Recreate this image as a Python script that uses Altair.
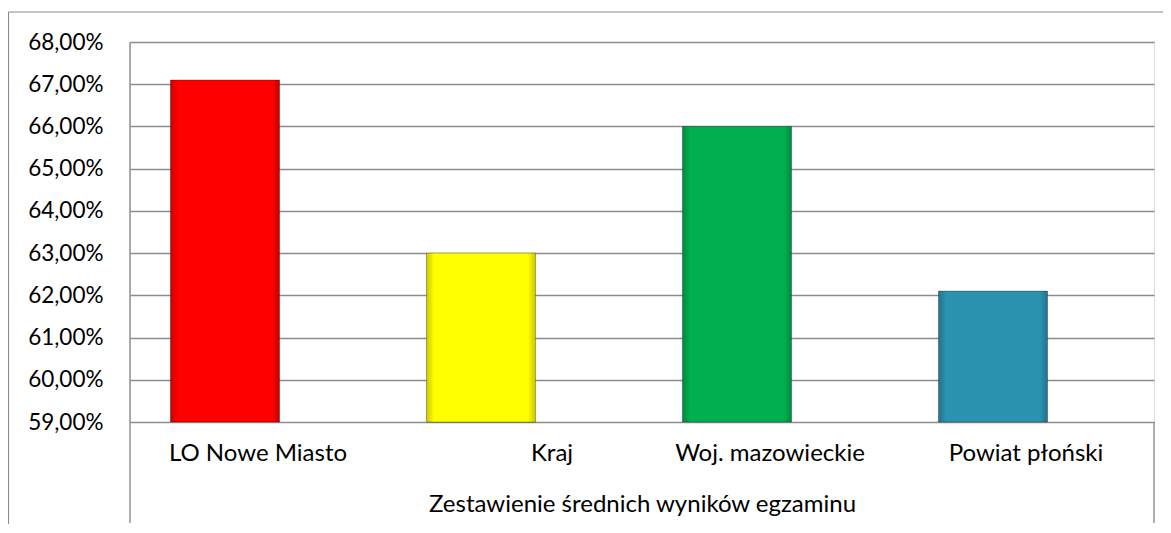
import altair as alt
import pandas as pd

categories = ["LO Nowe Miasto", "Kraj", "Woj. mazowieckie", "Powiat płoński"]
values = [67.1, 63.0, 66.0, 62.1]
bar_colors = ["#FF0000", "#FFFF00", "#00B050", "#2B93AF"]
y_ticks = [59, 60, 61, 62, 63, 64, 65, 66, 67, 68]
x_title = "Zestawienie średnich wyników egzaminu"

df = pd.DataFrame({"cat": categories, "val": values})

FONT = "Lato"
W, H = 1024, 380
GRID = "#8c8c8c"

offset_cond = {
    "condition": [{"test": "datum.value === 'Kraj'", "value": 38}],
    "value": 0,
}

x_enc = alt.X(
    "cat:N",
    sort=categories,
    scale=alt.Scale(paddingInner=0.574, paddingOuter=0.287),
    axis=alt.Axis(
        title=x_title,
        labelAngle=0,
        domain=False,
        ticks=False,
        grid=False,
        labelFont=FONT,
        labelFontSize=24,
        labelColor="black",
        labelPadding=19,
        labelLimit=400,
        labelOverlap=False,
        labelOffset=offset_cond,
        titleFont=FONT,
        titleFontSize=24,
        titleFontWeight="normal",
        titleColor="black",
        titlePadding=27,
        titleLimit=1000,
    ),
)
y_enc = alt.Y(
    "val:Q",
    scale=alt.Scale(domain=[59, 68], nice=False, zero=False),
    axis=alt.Axis(
        title=None,
        values=y_ticks,
        labelExpr="replace(format(datum.value, '.2f'), '.', ',') + '%'",
        domain=False,
        ticks=False,
        grid=True,
        gridColor=GRID,
        gridWidth=1.4,
        labelFont=FONT,
        labelFontSize=22.5,
        labelColor="black",
        labelPadding=27,
        labelOverlap=False,
    ),
)

bars = alt.Chart(df).mark_bar(
    xOffset=-33, stroke="rgba(0,0,0,0.28)", strokeWidth=1
).encode(
    x=x_enc,
    y=y_enc,
    y2=alt.datum(59),
    color=alt.Color("cat:N", scale=alt.Scale(domain=categories, range=bar_colors), legend=None),
)

shade = alt.Chart(df).mark_bar(
    xOffset=-33,
    color=alt.Gradient(
        gradient="linear",
        stops=[
            alt.GradientStop(color="rgba(0,0,0,0.22)", offset=0),
            alt.GradientStop(color="rgba(0,0,0,0)", offset=0.07),
            alt.GradientStop(color="rgba(0,0,0,0)", offset=0.93),
            alt.GradientStop(color="rgba(0,0,0,0.22)", offset=1),
        ],
        x1=0, x2=1, y1=0, y2=0,
    ),
).encode(x=alt.X("cat:N", sort=categories), y="val:Q", y2=alt.datum(59))

one = pd.DataFrame({"a": [0]})
left_axis = alt.Chart(one).mark_rule(color=GRID, strokeWidth=1.4).encode(
    x=alt.value(0), y=alt.value(0), y2=alt.value(481)
)
right_box = alt.Chart(one).mark_rule(color=GRID, strokeWidth=1.4).encode(
    x=alt.value(W), y=alt.value(H), y2=alt.value(481)
)
frame_top = alt.Chart(one).mark_rule(color=GRID, strokeWidth=1.2).encode(
    x=alt.value(-121.5), x2=alt.value(W + 12), y=alt.value(-30)
)
frame_left = alt.Chart(one).mark_rule(color=GRID, strokeWidth=1.2).encode(
    x=alt.value(-121.5), y=alt.value(-30), y2=alt.value(482)
)

chart = alt.layer(bars, shade, left_axis, right_box, frame_top, frame_left).properties(
    width=W,
    height=H,
    autosize=alt.AutoSizeParams(type="none"),
    padding={"left": 122, "top": 34, "right": 9, "bottom": 102},
).configure_view(stroke=None).configure(background="white")

chart.save("out.html", embed_options={"renderer": "svg", "actions": False})
